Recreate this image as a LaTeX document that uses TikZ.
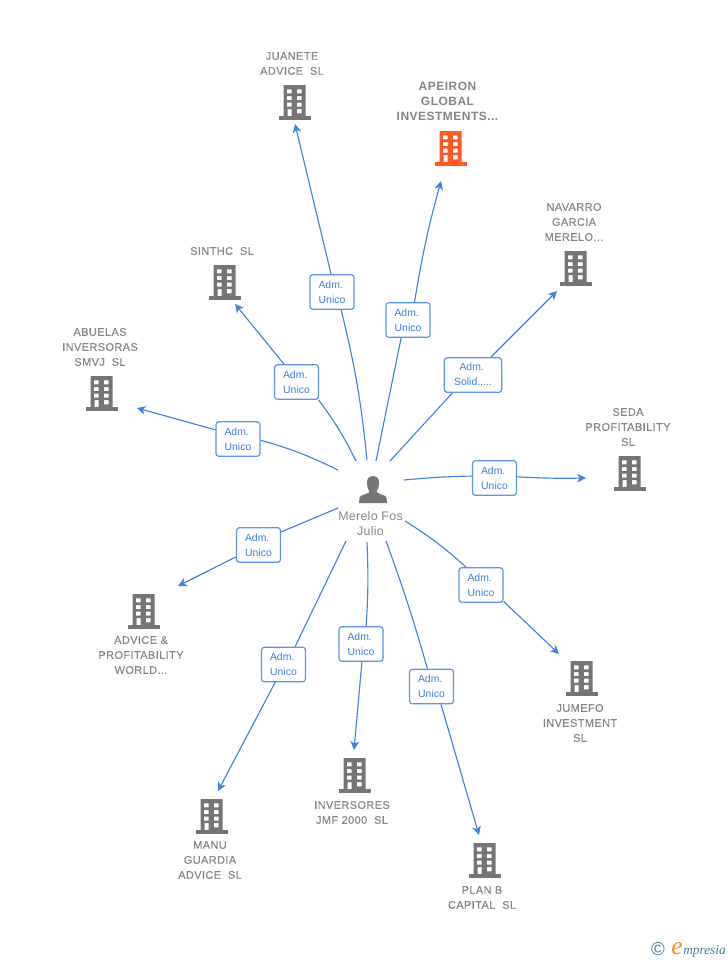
\documentclass[tikz,border=0pt]{standalone}
\usepackage{fontspec}
\setmainfont{Liberation Sans}
\newfontfamily\logofont{Liberation Serif}
\usetikzlibrary{arrows.meta}
\definecolor{linkblue}{HTML}{3F83E0}
\definecolor{boxblue}{HTML}{5A95E6}
\definecolor{labblue}{HTML}{3A7FDC}
\definecolor{iconGray}{HTML}{757575}
\definecolor{nameGray}{HTML}{858585}
\definecolor{hot}{HTML}{FF5A26}
\definecolor{logoteal}{HTML}{3F7F96}
\definecolor{logoorange}{HTML}{F08A1D}
\tikzset{
  conn/.style={draw=linkblue,line width=0.85pt},
  arr/.style={conn,-{Stealth[length=6.5pt,width=6.5pt,inset=1.8pt]}},
  adm/.style={draw=boxblue,fill=white,line width=0.9pt,rounded corners=2.2pt,
    minimum width=33pt,minimum height=26pt,inner sep=0pt,align=center,
    text=labblue,font=\fontsize{7.8}{11.25}\selectfont},
  firm/.style={align=center,text=nameGray,inner sep=0pt,
    font=\fontsize{8.25}{11.25}\selectfont\addfontfeature{LetterSpace=3.5,FakeBold=0.15}},
  pics/bld/.style={code={
    \fill[#1,even odd rule]
      (-11,-17) rectangle (11,14.5)
      (-7.6,-12.7) rectangle (-3,-8.7) (2.4,-12.7) rectangle (7,-8.7)
      (-7.6,-6) rectangle (-3,-2) (2.4,-6) rectangle (7,-2)
      (-7.6,0.7) rectangle (-3,4.7) (2.4,0.7) rectangle (7,4.7)
      (-7,7) rectangle (-3,14.5) (2.4,7) rectangle (7,11.3);
    \fill[#1] (-16,14) rectangle (16,17.5);
  }}
}
\begin{document}
\begin{tikzpicture}[x=0.75pt,y=-0.75pt]
\useasboundingbox (0,0) rectangle (728,960);
% buildings
\pic at (294.5,102) {bld=iconGray};
\pic at (450.5,148) {bld=hot};
\pic at (575.5,268) {bld=iconGray};
\pic at (224.5,282) {bld=iconGray};
\pic at (101.5,393) {bld=iconGray};
\pic at (629.5,473) {bld=iconGray};
\pic at (143.5,611) {bld=iconGray};
\pic at (581.5,678) {bld=iconGray};
\pic at (354.5,775) {bld=iconGray};
\pic at (211.5,816) {bld=iconGray};
\pic at (484.5,860) {bld=iconGray};
% names
\node[firm] (n1) at (292,63.5) {JUANETE\\ADVICE\ \ SL};
\node[firm,font=\fontsize{9}{11.25}\selectfont\bfseries\addfontfeature{LetterSpace=4}] (n2) at (447.5,101.5) {APEIRON\\GLOBAL\\INVESTMENTS...};
\node[firm] (n3) at (574,222) {NAVARRO\\GARCIA\\MERELO...};
\node[firm] (n4) at (222,251) {SINTHC\ \ SL};
\node[firm] (n5) at (100,347) {ABUELAS\\INVERSORAS\\SMVJ\ \ SL};
\node[firm] (n6) at (628,427) {SEDA\\PROFITABILITY\\SL};
\node[firm] (n7) at (141,655) {ADVICE \&\\PROFITABILITY\\WORLD...};
\node[firm] (n8) at (580,723) {JUMEFO\\INVESTMENT\\SL};
\node[firm] (n9) at (352,812.5) {INVERSORES\\JMF 2000\ \ SL};
\node[firm] (n10) at (210,860) {MANU\\GUARDIA\\ADVICE\ \ SL};
\node[firm] (n11) at (482,897.5) {PLAN B\\CAPITAL\ \ SL};
% person
\fill[iconGray] (373,476) .. controls (368,476) and (366.5,480) .. (367,484)
  .. controls (367.3,488) and (369,490) .. (369.5,492)
  .. controls (366,495) and (360,494.5) .. (359.5,498) -- (359,503) -- (387,503) -- (386.5,498)
  .. controls (386,494.5) and (380,495) .. (376.5,492)
  .. controls (377,490) and (378.7,488) .. (379,484)
  .. controls (379.5,480) and (378,476) .. (373,476) -- cycle;
\node[align=center,text=nameGray,inner sep=0pt,font=\fontsize{9.3}{11.25}\selectfont\addfontfeature{LetterSpace=2.5}] (merelo) at (370.5,524) {Merelo Fos\\Julio};
% labels
\node[adm] (l1) at (332,292) {Adm.\kern2pt\\Unico};
\node[adm] (l2) at (408,320) {Adm.\kern2pt\\Unico};
\node[adm,minimum width=43pt] (l3) at (473,375) {Adm.\kern2pt\\Solid.,...};
\node[adm] (l4) at (296.5,382) {Adm.\kern2pt\\Unico};
\node[adm] (l5) at (238,439) {Adm.\kern2pt\\Unico};
\node[adm] (l6) at (494.5,478) {Adm.\kern2pt\\Unico};
\node[adm] (l7) at (258.5,545) {Adm.\kern2pt\\Unico};
\node[adm] (l8) at (481,585) {Adm.\kern2pt\\Unico};
\node[adm] (l9) at (361,644) {Adm.\kern2pt\\Unico};
\node[adm] (l10) at (283.5,664.5) {Adm.\kern2pt\\Unico};
\node[adm] (l11) at (431.5,686.5) {Adm.\kern2pt\\Unico};
% free ends
\coordinate (s1) at (367,460); \coordinate (t1) at (295,124);
\coordinate (s2) at (376,461); \coordinate (t2) at (441,181);
\coordinate (s3) at (390,461); \coordinate (t3) at (557,291);
\coordinate (s4) at (356,461); \coordinate (t4) at (235,304);
\coordinate (s5) at (338,470); \coordinate (t5) at (137,408);
\coordinate (s6) at (404,480); \coordinate (t6) at (586,478);
\coordinate (s7) at (338,508); \coordinate (t7) at (178,586);
\coordinate (s8) at (405,521); \coordinate (t8) at (559,654);
\coordinate (s9) at (367,542); \coordinate (t9) at (354,750);
\coordinate (s10) at (346,541); \coordinate (t10) at (218,791);
\coordinate (s11) at (386,541); \coordinate (t11) at (479,835);
% connectors
\draw[conn] (s1) to[bend right=4] (l1.-63); \draw[arr] (l1.93) -- (t1);
\draw[conn] (s2) -- (l2.-111); \draw[arr] (l2.70) to[bend left=3] (t2);
\draw[conn] (s3) -- (l3.-139); \draw[arr] (l3.45) -- (t3);
\draw[conn] (s4) to[bend right=5] (l4.-39); \draw[arr] (l4.125) -- (t4);
\draw[conn] (s5) to[bend right=5] (l5.-3); \draw[arr] (l5.158) -- (t5);
\draw[conn] (s6) to[bend left=2] (l6.175); \draw[arr] (l6.3) to[bend right=2] (t6);
\draw[conn] (s7) -- (l7.30); \draw[arr] (l7.208) -- (t7);
\draw[conn] (s8) to[bend left=5] (l8.130); \draw[arr] (l8.-36) -- (t8);
\draw[conn] (s9) to[bend left=3] (l9.74); \draw[arr] (l9.-87) -- (t9);
\draw[conn] (s10) -- (l10.57); \draw[arr] (l10.-115) -- (t10);
\draw[conn] (s11) to[bend left=2] (l11.103); \draw[arr] (l11.-62) -- (t11);
% logo
\node[inner sep=0pt,text=logoteal,font=\fontsize{14}{14}\selectfont] (copy) at (658,949) {©};
\node[inner sep=0pt,anchor=base west,text=logoorange,font=\logofont\itshape\fontsize{19}{19}\selectfont] (elogo) at (671,954.5) {e};
\node[inner sep=0pt,anchor=base west,text=logoteal,font=\logofont\itshape\fontsize{10}{10}\selectfont] (mpresia) at (683,954) {mpresia};
\end{tikzpicture}
\end{document}
